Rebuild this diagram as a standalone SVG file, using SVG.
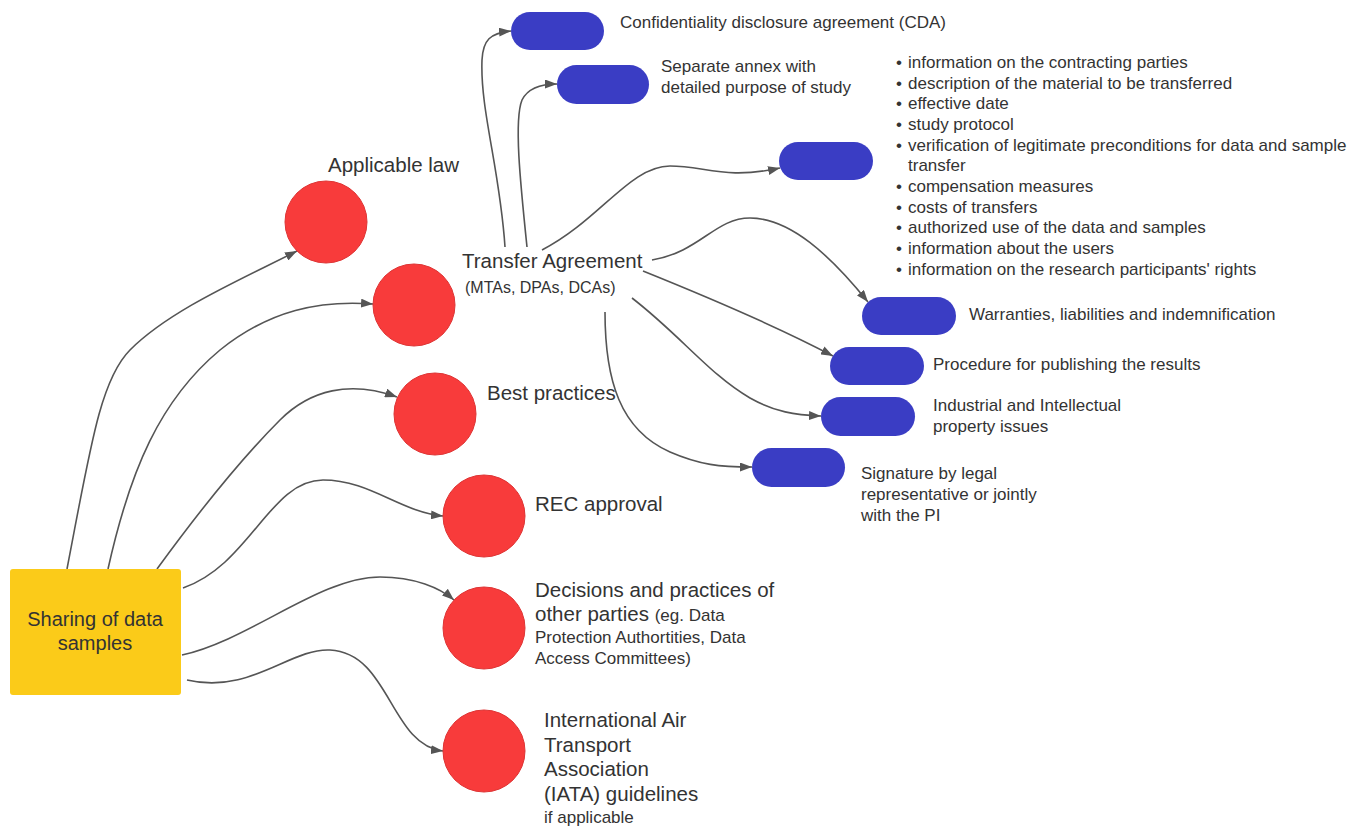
<svg xmlns="http://www.w3.org/2000/svg" width="1365" height="830" viewBox="0 0 1365 830">
<style>
  text { font-family: "Liberation Sans", Arial, sans-serif; fill: #333; }
  .big { font-size: 20.5px; }
  .sm { font-size: 17px; }
  .red { fill: #F83B3B; stroke: #DE3434; stroke-width: 1; }
  .pill { fill: #3A3DC4; }
  .conn path { fill: none; stroke: #555; stroke-width: 1.6; marker-end: url(#arr); }
</style>
<defs>
  <marker id="arr" viewBox="0 0 12 9" refX="12" refY="4.5" markerWidth="12" markerHeight="9" markerUnits="userSpaceOnUse" orient="auto">
    <path d="M0,0 L12,4.5 L0,9 z" fill="#555"/>
  </marker>
</defs>
<rect width="1365" height="830" fill="#fff"/>

<g id="connectors" class="conn">
  <path d="M67,569 C90,450 100,380 130,350 C170,310 240,280 297,251"/>
  <path d="M108,569 C130,470 160,400 220,350 C270,310 320,300 373,304"/>
  <path d="M157,569 C200,510 240,460 280,420 C310,390 350,380 397,397"/>
  <path d="M183,588 C250,565 270,480 323,480 C370,480 400,512 443,516"/>
  <path d="M182,655 C250,640 320,577 380,577 C415,577 440,588 454,600"/>
  <path d="M187,680 C250,695 290,648 330,650 C390,653 390,745 443,751"/>
  <path d="M505,247 C500,170 480,110 482,60 C483,40 490,33 511,31"/>
  <path d="M527,247 C520,180 514,120 522,100 C528,88 540,84 557,84"/>
  <path d="M542,250 C600,220 630,166 670,166 C705,166 725,180 780,168"/>
  <path d="M652,260 C700,252 715,218 750,218 C790,218 830,255 868,302"/>
  <path d="M643,271 C720,302 780,328 833,356"/>
  <path d="M632,298 C680,335 710,375 750,398 C775,412 795,415 821,416"/>
  <path d="M605,312 C605,380 620,430 670,452 C700,465 720,467 752,467"/>
</g>

<g id="sharing">
  <rect x="10" y="569" width="171" height="126" rx="3" fill="#FBCB19"/>
  <text class="big" x="95" y="626" text-anchor="middle" style="font-size:20px">Sharing of data</text>
  <text class="big" x="95" y="650" text-anchor="middle" style="font-size:20px">samples</text>
</g>

<g id="applicable-law">
  <circle class="red" cx="326" cy="222" r="41"/>
  <text class="big" x="328" y="172">Applicable law</text>
</g>

<g id="transfer-agreement">
  <circle class="red" cx="414" cy="305" r="41"/>
  <text class="big" x="462" y="268">Transfer Agreement</text>
  <text x="465" y="293" style="font-size:16px">(MTAs, DPAs, DCAs)</text>
</g>

<g id="best-practices">
  <circle class="red" cx="435" cy="414" r="41"/>
  <text class="big" x="487" y="400">Best practices</text>
</g>

<g id="rec-approval">
  <circle class="red" cx="484" cy="516" r="41"/>
  <text class="big" x="535" y="511">REC approval</text>
</g>

<g id="decisions">
  <circle class="red" cx="484" cy="628" r="41"/>
  <text class="big" x="535" y="597">Decisions and practices of</text>
  <text class="big" x="535" y="621">other parties <tspan class="sm">(eg. Data</tspan></text>
  <text class="sm" x="535" y="643">Protection Authortities, Data</text>
  <text class="sm" x="535" y="664">Access Committees)</text>
</g>

<g id="iata">
  <circle class="red" cx="484" cy="751" r="41"/>
  <text class="big" x="544" y="727">International Air</text>
  <text class="big" x="544" y="752">Transport</text>
  <text class="big" x="544" y="776">Association</text>
  <text class="big" x="544" y="801">(IATA) guidelines</text>
  <text class="sm" x="544" y="823">if applicable</text>
</g>

<g id="cda">
  <rect class="pill" x="511" y="12" width="93" height="38" rx="19"/>
  <text class="sm" x="620" y="28">Confidentiality disclosure agreement (CDA)</text>
</g>

<g id="annex">
  <rect class="pill" x="557" y="65" width="92" height="39" rx="19.5"/>
  <text class="sm" x="661" y="72">Separate annex with</text>
  <text class="sm" x="661" y="93">detailed purpose of study</text>
</g>

<g id="contents">
  <rect class="pill" x="779" y="142" width="94" height="38" rx="19"/>
  <g class="sm">
    <text class="sm" x="896" y="68">•</text><text class="sm" x="908" y="68">information on the contracting parties</text>
    <text class="sm" x="896" y="89">•</text><text class="sm" x="908" y="89">description of the material to be transferred</text>
    <text class="sm" x="896" y="109">•</text><text class="sm" x="908" y="109">effective date</text>
    <text class="sm" x="896" y="130">•</text><text class="sm" x="908" y="130">study protocol</text>
    <text class="sm" x="896" y="151">•</text><text class="sm" x="908" y="151">verification of legitimate preconditions for data and sample</text>
    <text class="sm" x="908" y="171">transfer</text>
    <text class="sm" x="896" y="192">•</text><text class="sm" x="908" y="192">compensation measures</text>
    <text class="sm" x="896" y="213">•</text><text class="sm" x="908" y="213">costs of transfers</text>
    <text class="sm" x="896" y="233">•</text><text class="sm" x="908" y="233">authorized use of the data and samples</text>
    <text class="sm" x="896" y="254">•</text><text class="sm" x="908" y="254">information about the users</text>
    <text class="sm" x="896" y="275">•</text><text class="sm" x="908" y="275">information on the research participants' rights</text>
  </g>
</g>

<g id="warranties">
  <rect class="pill" x="862" y="297" width="94" height="38" rx="19"/>
  <text class="sm" x="969" y="320">Warranties, liabilities and indemnification</text>
</g>

<g id="publishing">
  <rect class="pill" x="830" y="347" width="94" height="38" rx="19"/>
  <text class="sm" x="933" y="370">Procedure for publishing the results</text>
</g>

<g id="ip-issues">
  <rect class="pill" x="821" y="397" width="94" height="39" rx="19.5"/>
  <text class="sm" x="933" y="411">Industrial and Intellectual</text>
  <text class="sm" x="933" y="432">property issues</text>
</g>

<g id="signature">
  <rect class="pill" x="752" y="448" width="93" height="39" rx="19.5"/>
  <text class="sm" x="861" y="479">Signature by legal</text>
  <text class="sm" x="861" y="500">representative or jointly</text>
  <text class="sm" x="861" y="521">with the PI</text>
</g>
</svg>
